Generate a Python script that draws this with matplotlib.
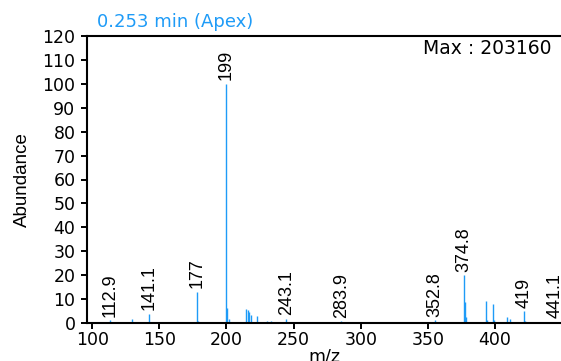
import matplotlib
matplotlib.use('Agg')
import matplotlib.pyplot as plt
from matplotlib.ticker import MultipleLocator

# peaks (m/z position, relative abundance %)
peak_mz = [113.2, 129.5, 142.0, 178.0, 178.8, 192.0, 200.0, 200.6, 201.8,
           214.5, 216.3, 217.0, 218.5, 222.5, 230.5, 233.5, 244.5, 285.5,
           355.0, 377.0, 377.6, 378.2, 393.0, 393.8, 398.8, 399.6, 409.0,
           411.0, 421.7, 422.5, 444.6]
peak_ab = [1.2, 1.7, 3.8, 13.0, 1.0, 0.4, 100.0, 6.1, 1.7,
           6.0, 5.5, 4.5, 3.5, 2.8, 1.0, 1.0, 1.7, 0.7,
           1.2, 20.0, 8.9, 2.7, 9.2, 1.2, 7.8, 1.2, 2.6,
           1.5, 5.0, 1.0, 0.6]

# annotated peaks: text shown, m/z position, abundance
label_txt = ['112.9', '141.1', '177', '199', '243.1', '283.9', '352.8', '374.8', '419', '441.1']
label_mz = [113.2, 142.0, 178.0, 200.0, 244.5, 285.5, 355.0, 377.0, 421.7, 444.6]
label_ab = [1.2, 3.8, 13.0, 100.0, 1.7, 0.7, 1.2, 20.0, 5.0, 0.6]

title = '0.253 min (Apex)'
max_txt = 'Max : 203160'
blue = '#1e9bf7'

plt.rcParams['font.family'] = ['DejaVu Sans']
narrow = ['Liberation Sans Narrow', 'Liberation Sans']

fig = plt.figure(figsize=(5.61, 3.61), dpi=100)
ax = fig.add_axes([87.3/561, 1-323/361, 1-87.3/561, (323-36)/361])

ax.vlines(peak_mz, 0, peak_ab, color=blue, lw=1.0)

for t, x, y in zip(label_txt, label_mz, label_ab):
    ax.annotate(t, (x, y), xytext=(0, 2.5), textcoords='offset points',
                rotation=90, ha='center', va='bottom', fontsize=13,
                family=narrow, color='black')

ax.set_xlim(96.3, 449.2)
ax.set_ylim(0, 120)
ax.xaxis.set_major_locator(MultipleLocator(50))
ax.yaxis.set_major_locator(MultipleLocator(10))
ax.tick_params(axis='both', direction='out', length=4.5, width=1.4,
               labelsize=12.5, color='black')
ax.tick_params(axis='y', pad=4)
ax.tick_params(axis='x', pad=1.5)
for s in ['left', 'top', 'bottom']:
    ax.spines[s].set_linewidth(1.5)
ax.spines['right'].set_visible(False)

ax.set_xlabel('m/z', fontsize=12.5, labelpad=-1)
ax.set_ylabel('Abundance', fontsize=13.5, family=narrow, labelpad=8)

ax.text(0.981, 0.955, max_txt, transform=ax.transAxes, ha='right', va='center',
        fontsize=13.5)
fig.text(97/561, 1-22/361, title, color=blue, fontsize=13, ha='left', va='center')

plt.savefig('out.png', dpi=100)
